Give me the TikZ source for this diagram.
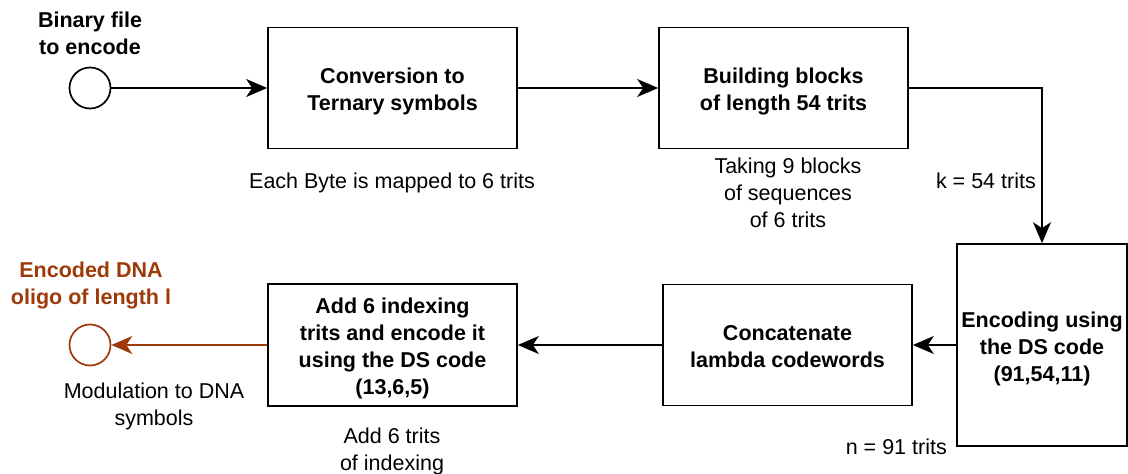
\documentclass[tikz,border=0pt]{standalone}
\usepackage{fontspec}
\setmainfont{Liberation Sans}
\usetikzlibrary{arrows.meta}
\definecolor{oligo}{RGB}{158,58,10}
\newcommand{\diagfont}{\fontsize{21.5}{27}\selectfont}
% fixed height for the first line of a multi-line text
\newcommand{\firstline}{\rule{0pt}{23pt}}
\tikzset{
  % fixed depth below the last line of a multi-line text
  struts/.style={execute at end node={\rule[-5pt]{0pt}{5pt}}},
  stage/.style={draw, line width=1.7pt, align=center, font=\diagfont\bfseries, inner sep=2pt, struts},
  port/.style={draw, circle, line width=1.7pt, minimum size=41pt, inner sep=0pt},
  note/.style={align=center, inner sep=0pt, font=\diagfont},
  boldnote/.style={align=center, inner sep=0pt, font=\diagfont\bfseries},
  flow/.style={line width=1.7pt, -{Stealth[length=21pt,width=18pt,inset=6pt]}},
}
\begin{document}
\begin{tikzpicture}[x=1pt,y=-1pt]
\useasboundingbox (0,0) rectangle (1128,474);

% processing stages
\node[stage, minimum width=249pt, minimum height=121pt] (conv) at (392.5,88) {\firstline Conversion to\\Ternary symbols};
\node[stage, minimum width=249pt, minimum height=121pt] (blocks) at (783.5,88) {\firstline Building blocks\\of length 54 trits};
\node[stage, minimum width=170pt, minimum height=202pt] (dsenc) at (1042,345) {\firstline Encoding using\\the DS code\\(91,54,11)};
\node[stage, minimum width=249pt, minimum height=121pt] (concat) at (787.5,345) {\firstline Concatenate\\lambda codewords};
\node[stage, minimum width=249pt, minimum height=122pt] (index) at (392.5,345) {\firstline Add 6 indexing\\trits and encode it\\using the DS code\\(13,6,5)};

% source and sink
\node[port] (src) at (90,88) {};
\node[port, draw=oligo] (dna) at (90,345) {};

% titles and annotations
\node[boldnote, struts] (srclbl) at (90,31.5) {\firstline Binary file\\to encode};
\node[boldnote, struts, text=oligo] (dnalbl) at (91,281.5) {\firstline Encoded DNA\\oligo of length l};
\node[note, anchor=base] (convlbl) at (392,188) {Each Byte is mapped to 6 trits};
\node[note, struts] (blockslbl) at (788,191) {\firstline Taking 9 blocks\\of sequences\\of 6 trits};
\node[note, anchor=base east] (klbl) at (1036,188) {k = 54 trits};
\node[note, anchor=base east] (nlbl) at (947,454) {n = 91 trits};
\node[note, struts] (indexlbl) at (392,447.5) {\firstline Add 6 trits\\of indexing};
\node[note, struts] (dnanote) at (154,402.5) {\firstline Modulation to DNA\\symbols};

% connectors
\draw[flow] (src) -- (conv);
\draw[flow] (conv) -- (blocks);
\draw[flow] (blocks.east) -| (dsenc.north);
\draw[flow] (dsenc) -- (concat);
\draw[flow] (concat) -- (index);
\draw[flow, draw=oligo, fill=oligo] (index) -- (dna);
\end{tikzpicture}
\end{document}
